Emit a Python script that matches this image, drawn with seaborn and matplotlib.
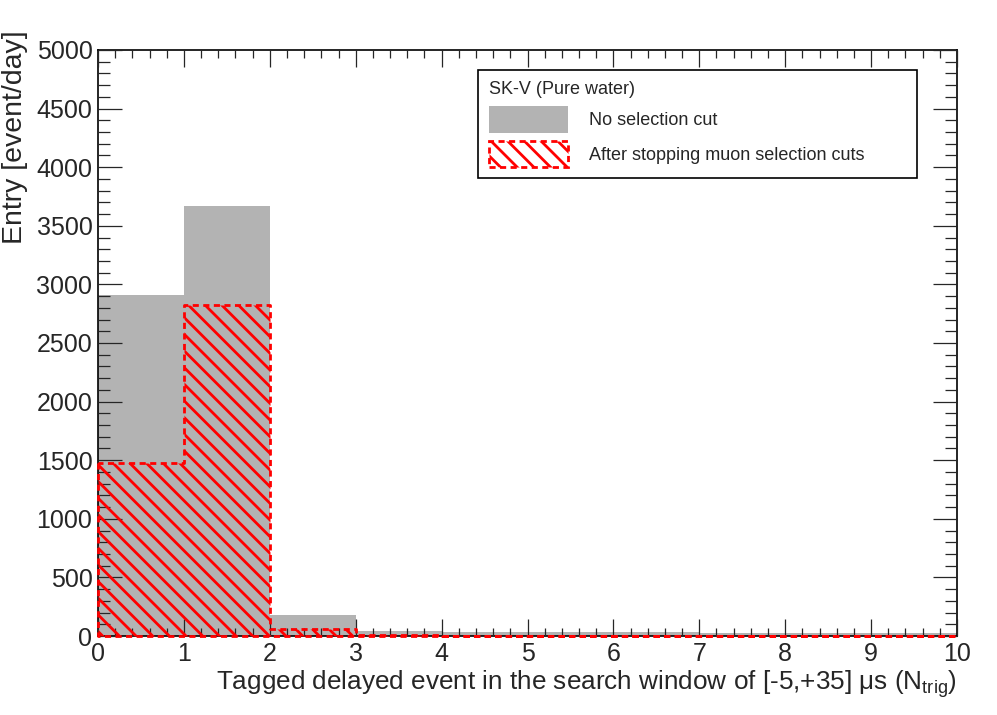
import matplotlib
matplotlib.use("Agg")
import matplotlib.pyplot as plt
import matplotlib.ticker as mticker
from matplotlib.patches import Patch
import seaborn as sns
import numpy as np

# histogram contents (event/day per bin)
bin_edges = [0, 1, 2, 3, 4, 5, 6, 7, 8, 9, 10]
no_cut = [2910, 3673, 179, 45, 33, 31, 30, 28, 25, 23]
after_cut = [1474, 2824, 60, 8, 3, 3, 3, 2, 2, 2]

legend_title = 'SK-V (Pure water)'
label_no_cut = 'No selection cut'
label_cut = 'After stopping muon selection cuts'

sns.set_style('white')
plt.rcParams['font.family'] = ['Liberation Sans', 'DejaVu Sans']
plt.rcParams['mathtext.fontset'] = 'custom'
plt.rcParams['mathtext.rm'] = 'Liberation Sans'
plt.rcParams['mathtext.it'] = 'Liberation Sans'
plt.rcParams['hatch.color'] = 'red'
plt.rcParams['hatch.linewidth'] = 2.0

fig = plt.figure(figsize=(9.97, 7.15), dpi=100)
ax = fig.add_axes([98 / 997, 1 - 636 / 715, 859 / 997, 586 / 715])
ax.set_axisbelow(False)

centers = np.array(bin_edges[:-1]) + 0.5

sns.histplot(x=centers, weights=no_cut, bins=bin_edges, element='step',
             fill=True, color='#b3b3b3', facecolor='#b3b3b3', alpha=1,
             linewidth=0, zorder=1, ax=ax)
sns.histplot(x=centers, weights=after_cut, bins=bin_edges, element='step',
             fill=True, color='red', facecolor='none', edgecolor='red', hatch='\\\\',
             linestyle=(0, (2.2, 1.6)), linewidth=2, zorder=3, clip_on=False, ax=ax)

ax.set_xlim(0, 10)
ax.set_ylim(0, 5000)
ax.set_xlabel('')
ax.set_ylabel('')

ax.xaxis.set_major_locator(mticker.MultipleLocator(1))
ax.xaxis.set_minor_locator(mticker.MultipleLocator(0.2))
ax.yaxis.set_major_locator(mticker.MultipleLocator(500))
ax.yaxis.set_minor_locator(mticker.MultipleLocator(100))

ax.tick_params(axis='x', which='major', direction='in', length=12.2, width=0.9,
               top=True, bottom=True, labelsize=18, pad=4)
ax.tick_params(axis='x', which='minor', direction='in', length=6.1, width=0.9,
               top=True, bottom=True)
ax.tick_params(axis='y', which='major', direction='in', length=17.5, width=0.9,
               left=True, right=True, labelsize=18, pad=4)
ax.tick_params(axis='y', which='minor', direction='in', length=8.7, width=0.9,
               left=True, right=True)

for sp in ax.spines.values():
    sp.set_visible(True)
    sp.set_color('black')
    sp.set_linewidth(1.2)
    sp.set_zorder(2.5)

fig.text(15 / 997, 1 - 30 / 715, 'Entry [event/day]', rotation=90,
         ha='center', va='top', fontsize=20.5)
fig.text(957 / 997, 1 - 690 / 715,
         r'Tagged delayed event in the search window of [-5,+35] $\mathregular{\mu}$s (N$_{\mathregular{trig}}$)',
         ha='right', va='baseline', fontsize=18.8)

handles = [
    Patch(facecolor='#b3b3b3', edgecolor='#b3b3b3', linewidth=0),
    Patch(facecolor='none', edgecolor='red', hatch='\\\\',
          linestyle=(0, (2.2, 1.6)), linewidth=2),
]
leg = ax.legend(handles, [label_no_cut, label_cut], title=legend_title,
                title_fontsize=13, fontsize=13, loc='upper left',
                bbox_to_anchor=(0.442, 0.966, 0.511, 0.0), mode='expand',
                alignment='left', frameon=True, fancybox=False,
                edgecolor='black', framealpha=1, borderpad=0.6,
                handlelength=4.4, handleheight=1.9, handletextpad=1.15,
                labelspacing=0.45, borderaxespad=0)
leg.get_frame().set_linewidth(1.2)
leg.set_zorder(6)

fig.savefig('out.png', dpi=100)
